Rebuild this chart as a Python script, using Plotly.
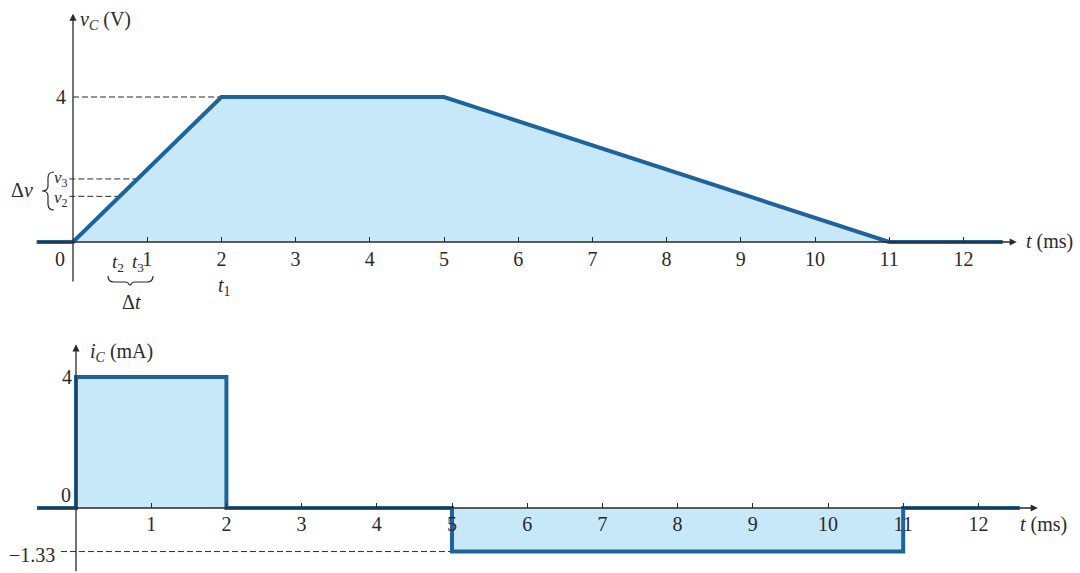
import plotly.graph_objects as go

# ---- data ----
t_v = [-0.49, 0, 2, 5, 11, 12.53]
v_c = [0, 0, 4, 4, 0, 0]
t_i = [-0.52, 0, 0, 2, 2, 5, 5, 11, 11, 12.55]
i_c = [0, 0, 4, 4, 0, 0, -1.33, -1.33, 0, 0]
t2, t3 = 0.63, 0.88
v2, v3 = 1.26, 1.74
x_ticks = list(range(1, 13))
x_ticks_b = list(range(1, 13))

W, H = 1080, 573
LINE = "#1b649d"
FILL = "#c6e8f9"
AX = "#2a2a2a"
FONT = "Liberation Serif"
FS = 20

def px(p): return p / W
def py(p): return 1 - p / H

# top mapping: px = 73 + 74.2 t ; py = 242 - 36.25 v
tx0, tsx, ty0, tsy = 73, 74.2, 242, 36.25
txr = [-0.5, 12.8]
tyr = [-1.2, 6.4]
# bottom mapping: px = 76 + 75.2 t ; py = 508 - 32.75 i
bx0, bsx, by0, bsy = 76, 75.2, 508, 32.75
bxr = [-0.55, 12.9]
byr = [-1.98, 5.1]

def T(pxl): return (pxl - tx0) / tsx
def V(pyl): return (ty0 - pyl) / tsy

fig = go.Figure()

dash = dict(color=AX, width=1, dash="6px,3px")
# top dashed guides
fig.add_trace(go.Scatter(x=[0, 2, 2], y=[4, 4, 0], mode="lines", line=dash, xaxis="x", yaxis="y"))
fig.add_trace(go.Scatter(x=[5, 5], y=[4, 0], mode="lines", line=dash, xaxis="x", yaxis="y"))
fig.add_trace(go.Scatter(x=[-0.05, t2, t2], y=[v2, v2, 0], mode="lines", line=dash, xaxis="x", yaxis="y"))
fig.add_trace(go.Scatter(x=[-0.05, t3, t3], y=[v3, v3, 0], mode="lines", line=dash, xaxis="x", yaxis="y"))
# bottom dashed
fig.add_trace(go.Scatter(x=[-0.2, 5], y=[-1.33, -1.33], mode="lines", line=dash, xaxis="x2", yaxis="y2"))

fig.add_trace(go.Scatter(x=t_v, y=v_c, mode="lines", fill="tozeroy", fillcolor=FILL,
                         line=dict(color=LINE, width=4), xaxis="x", yaxis="y"))
fig.add_trace(go.Scatter(x=t_i, y=i_c, mode="lines", fill="tozeroy", fillcolor=FILL,
                         line=dict(color=LINE, width=4), xaxis="x2", yaxis="y2"))

tick_font = dict(family=FONT, size=FS, color=AX)

fig.update_layout(
    width=W, height=H, margin=dict(l=0, r=0, t=0, b=0),
    paper_bgcolor="white", plot_bgcolor="rgba(0,0,0,0)", showlegend=False,
    xaxis=dict(domain=[px(tx0 + tsx * txr[0]), px(tx0 + tsx * txr[1])], range=txr,
               anchor="free", position=py(ty0), tickvals=x_ticks,
               ticktext=[str(v) for v in x_ticks], ticks="inside", ticklen=5, tickwidth=1,
               tickcolor=AX, showgrid=False, zeroline=False, showline=False,
               tickfont=tick_font, ticklabelstandoff=3),
    yaxis=dict(domain=[py(ty0 - tsy * tyr[0]), py(ty0 - tsy * tyr[1])], range=tyr,
               anchor="free", position=px(tx0), tickvals=[4], ticktext=["4"], ticks="",
               showgrid=False, zeroline=False, showline=False, tickfont=tick_font,
               ticklabelstandoff=7),
    xaxis2=dict(domain=[px(bx0 + bsx * bxr[0]), px(bx0 + bsx * bxr[1])], range=bxr,
                anchor="free", position=py(by0), tickvals=x_ticks_b,
                ticktext=[str(v) for v in x_ticks_b], ticks="inside", ticklen=5, tickwidth=1,
                tickcolor=AX, showgrid=False, zeroline=False, showline=False,
                tickfont=tick_font, ticklabelstandoff=2),
    yaxis2=dict(domain=[max(0, py(by0 - bsy * byr[0])), py(by0 - bsy * byr[1])], range=byr,
                anchor="free", position=px(bx0), tickvals=[4], ticktext=["4"],
                ticks="", showgrid=False, zeroline=False, showline=False, tickfont=tick_font,
                ticklabelstandoff=4),
)

ann = []
def arrow(x, y, axx, ayy, xr, yr):
    ann.append(dict(x=x, y=y, ax=axx, ay=ayy, xref=xr, yref=yr, axref=xr, ayref=yr,
                    showarrow=True, arrowhead=2, arrowsize=1.1, arrowwidth=1.3,
                    arrowcolor=AX, text="", standoff=0))
# top axes
arrow(12.72, 0, -0.49, 0, "x", "y")
arrow(0, 6.3, 0, -1.13, "x", "y")
# bottom axes
arrow(12.79, 0, -0.52, 0, "x2", "y2")
arrow(0, 5.0, 0, -1.98, "x2", "y2")

def txt(xp, yp, s, xanchor="center", size=FS):
    ann.append(dict(x=px(xp), y=py(yp), text=s, xref="paper", yref="paper", showarrow=False,
                    xanchor=xanchor, yanchor="middle",
                    font=dict(family=FONT, size=size, color=AX)))

# top plot texts (pixel positions)
txt(78, 20, "<i>v</i><sub><i>C</i></sub> (V)", xanchor="left")
txt(1024, 242, "<i>t</i> (ms)", xanchor="left")
txt(60, 259, "0")
txt(118, 263, "<i>t</i><sub>2</sub>", size=19)
txt(138, 263, "<i>t</i><sub>3</sub>", size=19)
txt(224, 286, "<i>t</i><sub>1</sub>")
txt(131, 302, "Δ<i>t</i>")
txt(22, 190, "Δ<i>v</i>")
txt(61, 179, "<i>v</i><sub>3</sub>", size=17)
txt(61, 199, "<i>v</i><sub>2</sub>", size=17)

# bottom plot texts
txt(88, 352, "<i>i</i><sub><i>C</i></sub> (mA)", xanchor="left")
txt(66, 495, "0")
txt(57, 555, "−1.33", xanchor="right")
txt(1018, 524, "<i>t</i> (ms)", xanchor="left")

# braces (drawn as paths in the top plot's data units)
def path(pts):
    s = ""
    for cmd, coords in pts:
        s += cmd + " " + " ".join(f"{T(a):.4f},{V(b):.4f}" for a, b in coords) + " "
    return s.strip()

brace_bottom = path([("M", [(108, 276)]), ("Q", [(108, 282), (114, 282)]), ("L", [(125, 282)]),
                     ("Q", [(130, 282), (130, 289)]), ("Q", [(130, 282), (135, 282)]),
                     ("L", [(147, 282)]), ("Q", [(153, 282), (153, 276)])])
brace_left = path([("M", [(54, 172)]), ("Q", [(48, 172), (48, 178)]), ("L", [(48, 186)]),
                   ("Q", [(48, 191), (42, 191)]), ("Q", [(48, 191), (48, 196)]),
                   ("L", [(48, 204)]), ("Q", [(48, 210), (54, 210)])])
shapes = [dict(type="path", path=p, xref="x", yref="y", line=dict(color=AX, width=1.2))
          for p in (brace_bottom, brace_left)]

fig.update_layout(annotations=ann, shapes=shapes)
fig.write_html("out.html", config={"displayModeBar": False},
               post_script="document.body.style.margin='0px';")
